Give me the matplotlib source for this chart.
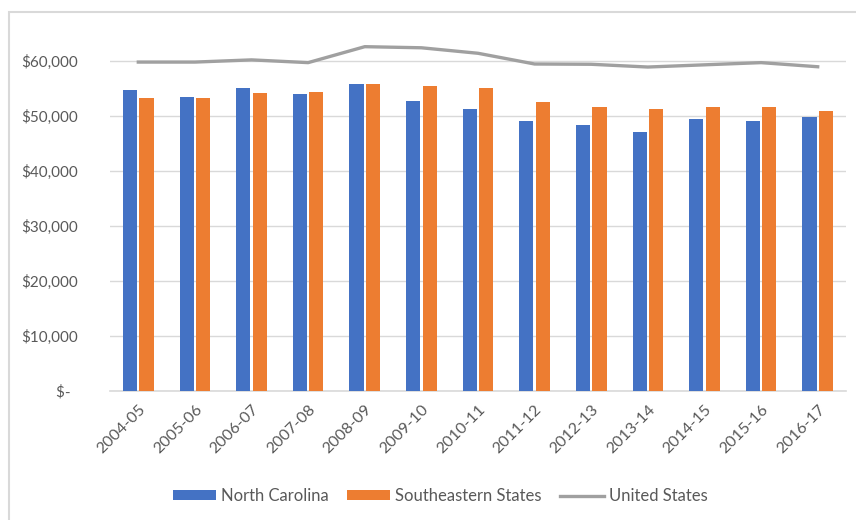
import matplotlib
matplotlib.use("Agg")
import matplotlib.pyplot as plt
import numpy as np
from matplotlib.patches import Rectangle

years = ["2004-05", "2005-06", "2006-07", "2007-08", "2008-09", "2009-10", "2010-11",
         "2011-12", "2012-13", "2013-14", "2014-15", "2015-16", "2016-17"]
north_carolina = [54700, 53500, 55100, 54000, 55900, 52800, 51300, 49000, 48300, 47150, 49400, 49000, 49900]
southeastern = [53200, 53200, 54100, 54300, 55900, 55500, 55100, 52500, 51700, 51300, 51700, 51700, 50900]
united_states = [59800, 59800, 60200, 59700, 62600, 62400, 61400, 59450, 59400, 58900, 59300, 59700, 58950]
ytick_vals = [0, 10000, 20000, 30000, 40000, 50000, 60000]
ytick_labels = ["$-  ", "$10,000", "$20,000", "$30,000", "$40,000", "$50,000", "$60,000"]

plt.rcParams['font.family'] = ['Lato', 'DejaVu Sans']
BLUE = "#4472C4"
ORANGE = "#ED7D31"
GRAY = "#A0A0A0"
TXT = "#595959"
GRID = "#D9D9D9"

fig = plt.figure(figsize=(8.56, 5.2), dpi=100)
ax = fig.add_axes([110/856, 1-391/520, 736/856, 371/520])

x = np.arange(len(years))
w = 0.25
ax.bar(x - 0.145, north_carolina, width=w, color=BLUE, label="North Carolina", zorder=3)
ax.bar(x + 0.145, southeastern, width=w, color=ORANGE, label="Southeastern States", zorder=3)
ax.plot(x, united_states, color=GRAY, lw=2.4, label="United States", zorder=4)

ax.set_xlim(-0.5, len(years) - 0.5)
ax.set_ylim(0, 67450)
ax.set_yticks(ytick_vals)
ax.set_yticklabels(ytick_labels)
ax.set_xticks(x)
ax.set_xticklabels(years, rotation=45, ha="right", va="top", rotation_mode="anchor")
ax.tick_params(axis="y", length=0, pad=23, labelsize=11, labelcolor=TXT)
ax.tick_params(axis="x", length=0, pad=8, labelsize=11.5, labelcolor=TXT)
for s in ["top", "right", "left"]:
    ax.spines[s].set_visible(False)
ax.spines["bottom"].set_color(GRID)
ax.spines["bottom"].set_linewidth(1.2)
ax.yaxis.grid(True, color=GRID, lw=1.0, zorder=0)
ax.set_axisbelow(True)

handles, labels = ax.get_legend_handles_labels()
order = [labels.index("North Carolina"), labels.index("Southeastern States"), labels.index("United States")]
leg = fig.legend([handles[i] for i in order], [labels[i] for i in order],
                 loc="center", bbox_to_anchor=(440/856, 1-496/520), ncol=3, frameon=False,
                 fontsize=12, labelcolor=TXT, handlelength=2.6, handleheight=0.55,
                 columnspacing=1.1, handletextpad=0.3)

fig.patches.append(Rectangle((9/856, -0.1), 1.2, 1-12/520 + 0.1, transform=fig.transFigure,
                             fill=False, edgecolor=GRID, lw=1.5))

fig.savefig("out.png", dpi=100, facecolor="white")
